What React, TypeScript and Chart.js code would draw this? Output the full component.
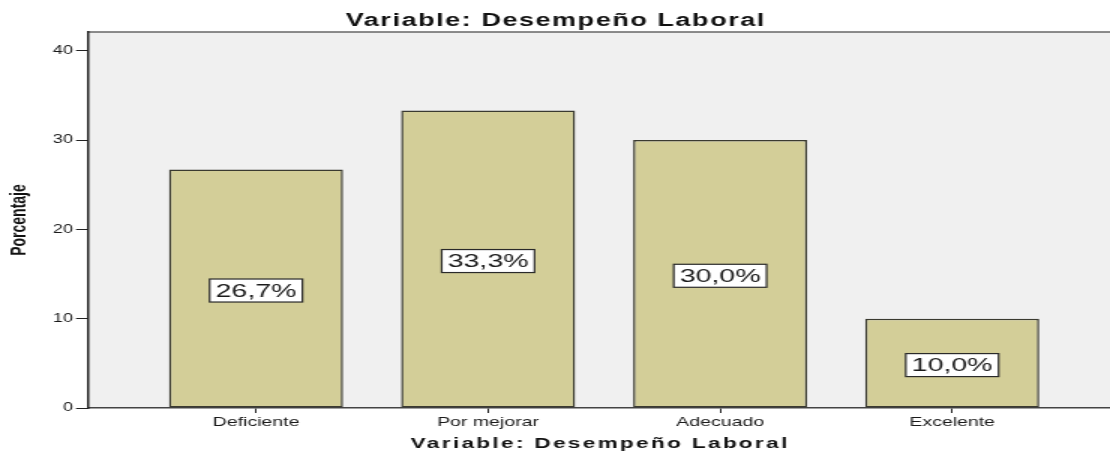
import React, { useEffect, useRef } from "react";
import { Chart, registerables } from "chart.js";

Chart.register(...registerables);

// ---- data ----
const categories = ["Deficiente", "Por mejorar", "Adecuado", "Excelente"];
const percentages = [26.7, 33.3, 30.0, 10.0];
const yTicks = [0, 10, 20, 30, 40];
const chartTitle = "Variable: Desempeño Laboral";
const xTitle = "Variable: Desempeño Laboral";
const yTitle = "Porcentaje";

// internal canvas is drawn narrower and stretched horizontally like the reference image
const INTERNAL_W = 740;
const H = 451;
const DISPLAY_W = 1110;
const FONT = "'Liberation Sans', Arial, Helvetica, sans-serif";

function drawSpaced(
  ctx: CanvasRenderingContext2D,
  text: string,
  cx: number,
  baseline: number,
  font: string,
  targetWidth: number
) {
  ctx.save();
  ctx.font = font;
  (ctx as any).letterSpacing = "0px";
  const w0 = ctx.measureText(text).width;
  const n = Array.from(text).length;
  const sp = Math.max(0, (targetWidth - w0) / (n - 1));
  (ctx as any).letterSpacing = sp + "px";
  ctx.fillStyle = "#111";
  ctx.textAlign = "left";
  ctx.textBaseline = "alphabetic";
  ctx.fillText(text, cx - targetWidth / 2, baseline);
  ctx.restore();
}

const plotBackground = {
  id: "plotBackground",
  beforeDraw(chart: any) {
    const { ctx, chartArea } = chart;
    ctx.save();
    ctx.fillStyle = "#f0f0f0";
    ctx.fillRect(chartArea.left, chartArea.top, chartArea.right - chartArea.left, chartArea.bottom - chartArea.top);
    ctx.strokeStyle = "#666";
    ctx.lineWidth = 1.5;
    ctx.beginPath();
    ctx.moveTo(chartArea.left, chartArea.top);
    ctx.lineTo(chartArea.right, chartArea.top);
    ctx.stroke();
    ctx.restore();
  },
};

const titlesPlugin = {
  id: "titlesPlugin",
  afterDraw(chart: any) {
    const { ctx, chartArea } = chart;
    drawSpaced(ctx, chartTitle, INTERNAL_W / 2, 26, `bold 18px ${FONT}`, 279);
    drawSpaced(ctx, xTitle, (chartArea.left + chartArea.right) / 2, 448, `bold 15px ${FONT}`, 251);
  },
};

const valueLabels = {
  id: "valueLabels",
  afterDatasetsDraw(chart: any) {
    const { ctx } = chart;
    const meta = chart.getDatasetMeta(0);
    ctx.save();
    ctx.font = `19px ${FONT}`;
    meta.data.forEach((el: any, i: number) => {
      const text = percentages[i].toFixed(1).replace(".", ",") + "%";
      const tw = ctx.measureText(text).width;
      const bw = tw + 8;
      const bh = 23;
      const cx = el.x;
      const cy = (el.y + el.base) / 2 + 2;
      ctx.fillStyle = "#ffffff";
      ctx.fillRect(cx - bw / 2, cy - bh / 2, bw, bh);
      ctx.strokeStyle = "#2a2a2a";
      ctx.lineWidth = 1.2;
      ctx.strokeRect(cx - bw / 2, cy - bh / 2, bw, bh);
      ctx.fillStyle = "#1a1a1a";
      ctx.textAlign = "center";
      ctx.textBaseline = "middle";
      ctx.fillText(text, cx, cy + 1);
    });
    ctx.restore();
  },
};

export default function App() {
  const canvasRef = useRef<HTMLCanvasElement | null>(null);

  useEffect(() => {
    if (!canvasRef.current) return;
    const chart = new Chart(canvasRef.current, {
      type: "bar",
      data: {
        datasets: [
          {
            label: yTitle,
            data: categories.map((_, i) => ({ x: i, y: percentages[i] })),
            backgroundColor: "#d3ce98",
            borderColor: "#3a3a30",
            borderWidth: 1.5,
            borderSkipped: false,
            barPercentage: 0.75,
            categoryPercentage: 1,
          },
        ],
      },
      options: {
        animation: false,
        responsive: false,
        devicePixelRatio: 1,
        layout: { padding: { top: 32, left: 0, right: 0, bottom: 0 } },
        plugins: {
          legend: { display: false },
          tooltip: { enabled: false },
          title: { display: false },
        },
        scales: {
          x: {
            type: "linear",
            offset: false,
            min: -0.724,
            max: 3.68,
            afterBuildTicks: (s: any) => {
              s.ticks = categories.map((_, i) => ({ value: i }));
            },
            afterFit: (s: any) => {
              s.height = 43;
            },
            ticks: {
              callback: (v: any) => categories[v as number] ?? "",
              font: { family: FONT, size: 13 },
              color: "#1a1a1a",
              padding: 2,
              maxRotation: 0,
              autoSkip: false,
            },
            grid: { offset: false, drawOnChartArea: false, drawTicks: true, tickLength: 5, color: "#222" },
            border: { display: true, color: "#444", width: 1.5 },
          },
          y: {
            type: "linear",
            min: 0,
            max: 42.1,
            afterBuildTicks: (s: any) => {
              s.ticks = yTicks.map((v) => ({ value: v }));
            },
            afterFit: (s: any) => {
              s.width = 58.7;
            },
            ticks: {
              font: { family: FONT, size: 12 },
              color: "#1a1a1a",
              padding: 2,
            },
            grid: { drawOnChartArea: false, drawTicks: true, tickLength: 8, color: "#222" },
            border: { display: true, color: "#222", width: 1.5 },
            title: {
              display: true,
              text: yTitle,
              font: { family: FONT, size: 14, weight: "bold" },
              color: "#111",
              padding: { top: 5, bottom: 0 },
            },
          },
        },
      },
      plugins: [plotBackground, valueLabels, titlesPlugin],
    } as any);
    return () => chart.destroy();
  }, []);

  return (
    <div style={{ position: "fixed", left: 0, top: 0, width: DISPLAY_W, height: H, background: "#fff" }}>
      <canvas
        ref={canvasRef}
        width={INTERNAL_W}
        height={H}
        style={{ width: DISPLAY_W + "px", height: H + "px", display: "block" }}
      />
    </div>
  );
}
